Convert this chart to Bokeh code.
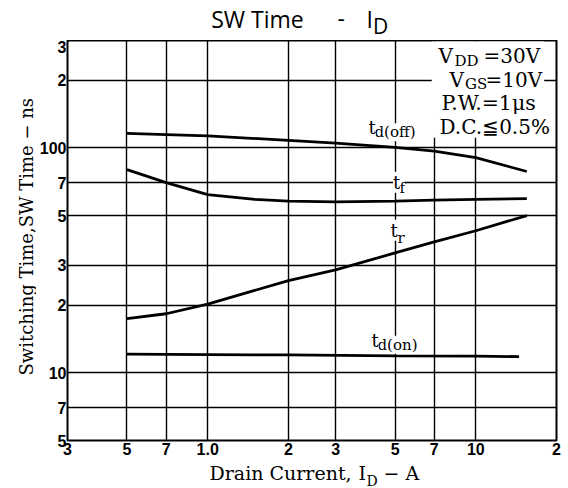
import math
from bokeh.plotting import figure
from bokeh.layouts import column, row
from bokeh.models import FixedTicker, Label, BoxAnnotation
from bokeh.embed import file_html
from bokeh.resources import INLINE

# ---------------- data ----------------
x_ticks = [0.3, 0.5, 0.7, 1.0, 2, 3, 5, 7, 10, 20]
x_tick_labels = ["3", "5", "7", "1.0", "2", "3", "5", "7", "10", "2"]
y_ticks = [5, 7, 10, 20, 30, 50, 70, 100, 200, 300]
y_tick_labels = ["5", "7", "10", "2", "3", "5", "7", "100", "2", "3"]

id_td_off = [0.5, 0.7, 1.0, 2, 3, 5, 7, 10, 15.5]
td_off = [116, 114.5, 113, 108, 105, 100.5, 96.6, 90.5, 78.5]

id_tf = [0.5, 0.7, 1.0, 1.5, 2, 3, 5, 7, 10, 15.5]
tf = [80, 70, 62, 59, 58, 57.5, 58, 58.5, 59, 59.5]

id_tr = [0.5, 0.7, 1.0, 2, 3, 5, 7, 10, 15.5]
tr = [17.4, 18.3, 20.2, 25.7, 28.7, 34.1, 38.2, 42.8, 50]

id_td_on = [0.5, 1.0, 2, 5, 10, 14.5]
td_on = [12.1, 12.05, 12.0, 11.9, 11.85, 11.8]

# ---------------- layout geometry (page pixels) ----------------
W, H = 568, 488
TOP_H = 40          # title strip
YL_W = 36           # y-label strip
MID_H = 422         # main figure height
BOT_H = H - TOP_H - MID_H

# ---------------- main figure ----------------
p = figure(width=W - YL_W, height=MID_H, x_axis_type="log", y_axis_type="log",
           x_range=(0.3, 20), y_range=(5, 300),
           output_backend="svg", toolbar_location=None,
           min_border_left=65 - YL_W, min_border_right=12,
           min_border_top=0, min_border_bottom=MID_H - 400)
p.title.text = ""
p.background_fill_color = "white"
p.border_fill_color = "white"
p.outline_line_color = "black"
p.outline_line_width = 2
p.outline_line_alpha = 1

for ax, ticks, labels in ((p.xaxis[0], x_ticks, x_tick_labels),
                          (p.yaxis[0], y_ticks, y_tick_labels)):
    ax.ticker = FixedTicker(ticks=ticks, minor_ticks=[])
    ax.major_label_overrides = dict(zip(ticks, labels))
    ax.axis_line_color = None
    ax.major_tick_line_color = None
    ax.minor_tick_line_color = None
    ax.major_tick_out = 0
    ax.major_tick_in = 0
    ax.major_label_text_font = "Liberation Sans"
    ax.major_label_text_font_style = "bold"
    ax.major_label_text_font_size = "16px"
    ax.major_label_text_color = "black"
p.xaxis[0].major_label_standoff = 2
p.yaxis[0].major_label_standoff = 1

p.xgrid.ticker = FixedTicker(ticks=x_ticks, minor_ticks=[])
p.ygrid.ticker = FixedTicker(ticks=y_ticks, minor_ticks=[])
for g in (p.xgrid[0], p.ygrid[0]):
    g.grid_line_color = "black"
    g.grid_line_width = 1.4
    g.grid_line_alpha = 1

for xs, ys in ((id_td_off, td_off), (id_tf, tf), (id_tr, tr), (id_td_on, td_on)):
    p.line(xs, ys, line_color="black", line_width=2.8)

# white box behind the test-condition text (kept inside the outline)
p.add_layout(BoxAnnotation(left=6.85, right=18.0, bottom=111, top=297,
                           fill_color="white", fill_alpha=1, line_color=None))


def text_fig(w, h):
    f = figure(width=w, height=h, x_range=(0, 1), y_range=(0, 1),
               x_axis_location=None, y_axis_location=None,
               output_backend="svg", toolbar_location=None, min_border=0)
    f.title.text = ""
    f.grid.visible = False
    f.outline_line_color = None
    f.background_fill_color = "white"
    f.border_fill_color = "white"
    return f


tfig = text_fig(W, TOP_H)
yfig = text_fig(YL_W, MID_H)
xfig = text_fig(W, BOT_H)

# distance from a label's anchor to its glyph baseline, as a fraction of font size
BASE_SHIFT = {"DejaVu Serif": 0.345, "Open Sans": 0.39}


def lab(fig, fx, fy, px, py, text, size, font="DejaVu Serif", rotated=False, bg=None):
    """fx, fy: page position of the figure frame's left / bottom edge;
    px, py: page position of the text start on its baseline."""
    kw = {}
    if bg:
        kw = dict(background_fill_color=bg, background_fill_alpha=1)
    d = BASE_SHIFT[font] * size
    if rotated:
        px -= d
    else:
        py -= d
    fig.add_layout(Label(x=px - fx, y=fy - py, x_units="screen", y_units="screen",
                         text=text, text_font=font, text_font_size=f"{size}px",
                         text_align="left", text_baseline="alphabetic",
                         text_color="black", angle=math.pi / 2 if rotated else 0.0,
                         **kw))


# title
lab(tfig, 0, TOP_H, 210.7, 27.3, "SW Time", 23, font="Open Sans")
lab(tfig, 0, TOP_H, 337, 27.3, "-", 23, font="Open Sans")
lab(tfig, 0, TOP_H, 366, 27.3, "I", 23, font="Open Sans")
lab(tfig, 0, TOP_H, 372.5, 33.3, "D", 21, font="Open Sans")

# y axis label
lab(yfig, 0, TOP_H + MID_H, 32, 397, "Switching Time,SW Time \u2212 ns", 18,
    rotated=True)

# x axis label
XB = H
lab(xfig, 0, XB, 209, 479, "Drain Current,", 19)
lab(xfig, 0, XB, 358, 479, "I", 19)
lab(xfig, 0, XB, 366, 485, "D", 14)
lab(xfig, 0, XB, 383, 479, "\u2212 A", 19)

# test conditions (inside the main frame)
FX, FY = 65, 440
lab(p, FX, FY, 436, 62, "V", 20)
lab(p, FX, FY, 452, 66, "DD", 15)
lab(p, FX, FY, 481, 62, "=30V", 20)
lab(p, FX, FY, 447, 86, "V", 20)
lab(p, FX, FY, 462.5, 89, "GS", 15)
lab(p, FX, FY, 483, 86, "=10V", 20)
lab(p, FX, FY, 439, 110, "P.W.=1\u03bcs", 20.5)
lab(p, FX, FY, 437, 133, "D.C.\u22660.5%", 20)

# curve names
lab(p, FX, FY, 372, 137, "d(off)", 15, bg="white")
lab(p, FX, FY, 366, 133, "t", 18, bg="white")
lab(p, FX, FY, 397, 193, "f", 15, bg="white")
lab(p, FX, FY, 390.5, 188, "t", 18, bg="white")
lab(p, FX, FY, 395, 243, "r", 15, bg="white")
lab(p, FX, FY, 388, 236, "t", 18, bg="white")
lab(p, FX, FY, 375, 349.3, "d(on)", 15, bg="white")
lab(p, FX, FY, 369, 346.7, "t", 18, bg="white")

layout = column(tfig, row(yfig, p), xfig)
open("out.html", "w").write(file_html(layout, INLINE))
